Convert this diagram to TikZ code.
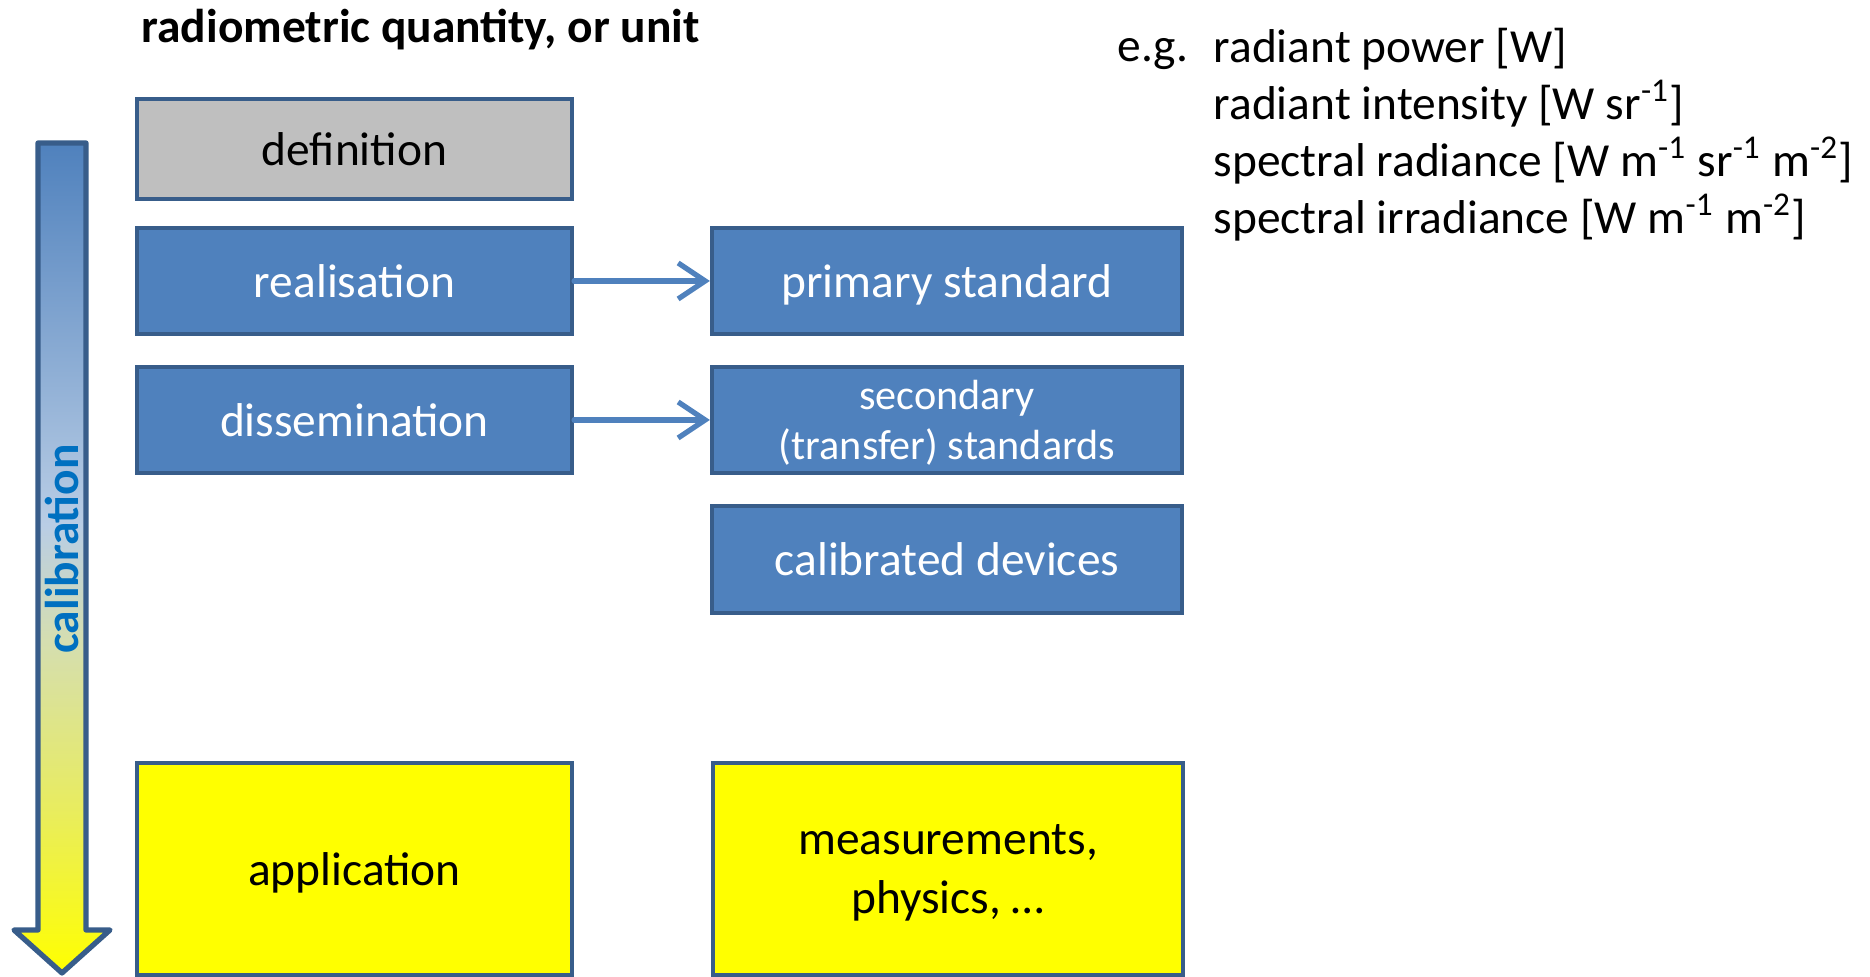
\documentclass[tikz,border=0pt]{standalone}
\usepackage{fontspec}
\setmainfont{Carlito}
\usetikzlibrary{arrows.meta}

\definecolor{boxblue}{RGB}{79,129,189}
\definecolor{edgeblue}{RGB}{56,93,138}
\definecolor{boxgrey}{RGB}{191,191,191}
\definecolor{calibblue}{RGB}{0,112,192}
\definecolor{boxyellow}{RGB}{255,255,0}
\definecolor{paleblue}{RGB}{185,205,229}
\definecolor{palegreen}{RGB}{213,222,176}
\definecolor{paleyellow}{RGB}{232,236,96}

\pgfdeclareverticalshading{calibshade}{100bp}{color(0bp)=(boxyellow); color(25bp)=(boxyellow); color(35bp)=(paleyellow); color(45bp)=(palegreen); color(52bp)=(paleblue); color(75bp)=(boxblue); color(100bp)=(boxblue)}

\begin{document}
\begin{tikzpicture}[>={Straight Barb[length=2.7mm,width=3.6mm]}]
			\tikzstyle{stage}=[draw=edgeblue, line width=1.2pt, minimum width=4.35cm, minimum height=1.06cm, inner sep=0pt, text depth=0pt, align=center, font=\fontsize{13.5}{16}\selectfont]
			\tikzstyle{bluestage}=[stage, fill=boxblue, text=white]
			\tikzstyle{yellowstage}=[stage, fill=boxyellow, minimum height=2.12cm]
			\tikzstyle{link}=[->, draw=boxblue, line width=1.5pt, line cap=round]

			\useasboundingbox (0,0) rectangle (18.70,9.77);

			% calibration arrow
			\draw [draw=edgeblue, line width=1.5pt, line join=round, shading=calibshade] (0.38,8.34) -- (0.86,8.34) -- (0.86,0.47) -- (1.10,0.47) -- (0.62,0.04) -- (0.14,0.47) -- (0.38,0.47) -- cycle;
			\node (calib) [rotate=90, text=calibblue, font=\fontsize{13.5}{16}\selectfont\bfseries] at (0.62,4.28) {calibration};

			\node (title) [anchor=base west, inner sep=0pt, font=\fontsize{13.5}{16}\selectfont\bfseries] at (1.41,9.34) {radiometric quantity, or unit};

			\node (def) [stage, fill=boxgrey, minimum height=1.0cm] at (3.545,8.28) {definition};
			\node (real) [bluestage] at (3.545,6.96) {realisation};
			\node (diss) [bluestage] at (3.545,5.57) {dissemination};
			\node (app) [yellowstage] at (3.545,1.08) {application};

			\node (prim) [bluestage, minimum width=4.70cm] at (9.47,6.96) {primary standard};
			\node (sec) [bluestage, minimum width=4.70cm, font=\fontsize{12}{14.2}\selectfont] at (9.47,5.57) {secondary\\(transfer) standards};
			\node (dev) [bluestage, minimum width=4.70cm, minimum height=1.07cm] at (9.47,4.175) {calibrated devices};
			\node (meas) [yellowstage, minimum width=4.70cm, font=\fontsize{13.5}{17}\selectfont] at (9.48,1.08) {measurements,\\physics, \dots};

			\draw [link] (real.east) -- (prim.west);
			\draw [link] (diss.east) -- (sec.west);

			% examples
			\node (eg) [anchor=base west, inner sep=0pt, font=\fontsize{13.5}{16.3}\selectfont] at (11.17,9.15) {e.g.};
			\node (quant) [anchor=base west, inner sep=0pt, align=left, font=\fontsize{13.5}{16.3}\selectfont] at (12.13,7.43) {radiant power [W]\\
				radiant intensity [W sr\textsuperscript{-1}]\\
				spectral radiance [W m\textsuperscript{-1} sr\textsuperscript{-1} m\textsuperscript{-2}]\\
				spectral irradiance [W m\textsuperscript{-1} m\textsuperscript{-2}]};
		\end{tikzpicture}
\end{document}
